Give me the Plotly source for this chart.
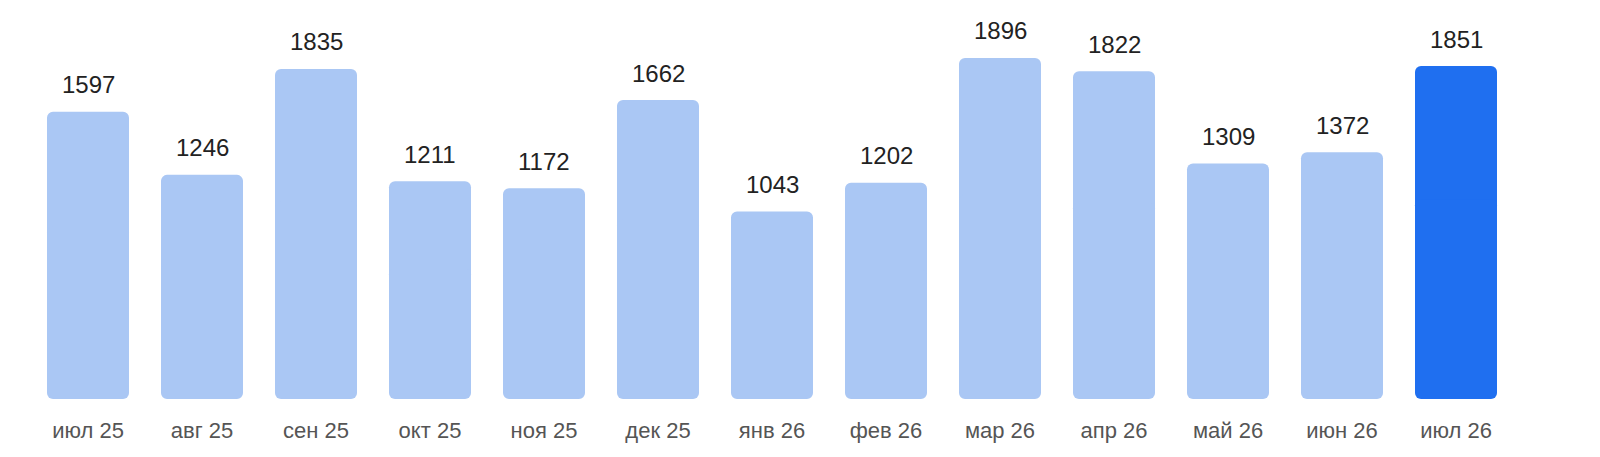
import plotly.graph_objects as go

months = ["июл 25", "авг 25", "сен 25", "окт 25", "ноя 25", "дек 25", "янв 26",
          "фев 26", "мар 26", "апр 26", "май 26", "июн 26", "июл 26"]
values = [1597, 1246, 1835, 1211, 1172, 1662, 1043, 1202, 1896, 1822, 1309, 1372, 1851]
highlight = "июл 26"

LIGHT = "#AAC7F4"
DARK = "#1F6FF0"
colors = [DARK if m == highlight else LIGHT for m in months]
FONT = "Liberation Sans, Arial, sans-serif"

fig = go.Figure()
# upper part (rounded top)
fig.add_trace(go.Bar(
    x=months, y=[v * 0.6 for v in values], base=[v * 0.4 for v in values],
    marker=dict(color=colors, line=dict(width=0), cornerradius=6),
    hoverinfo="skip", showlegend=False,
))
# lower part (rounded bottom)
fig.add_trace(go.Bar(
    x=months, y=[-v * 0.6 for v in values], base=[v * 0.6 for v in values],
    marker=dict(color=colors, line=dict(width=0), cornerradius=6),
    customdata=values, hovertemplate="%{x}: %{customdata}<extra></extra>",
    showlegend=False,
))

for m, v in zip(months, values):
    fig.add_annotation(x=m, y=v, text=str(v), showarrow=False,
                       yanchor="middle", yshift=27,
                       font=dict(family=FONT, size=24, color="#222222"))

fig.update_layout(
    width=1600, height=457,
    margin=dict(l=31, r=87, t=20, b=58),
    plot_bgcolor="white", paper_bgcolor="white",
    barmode="overlay", bargap=32 / 114,
    xaxis=dict(showgrid=False, showline=False, zeroline=False, ticks="",
               ticklabelstandoff=16,
               tickfont=dict(family=FONT, size=22, color="#555555")),
    yaxis=dict(range=[0, 2107], visible=False, showgrid=False, zeroline=False),
)

fig.write_html("out.html", config={"displayModeBar": False},
               post_script="document.body.style.margin='0';")
